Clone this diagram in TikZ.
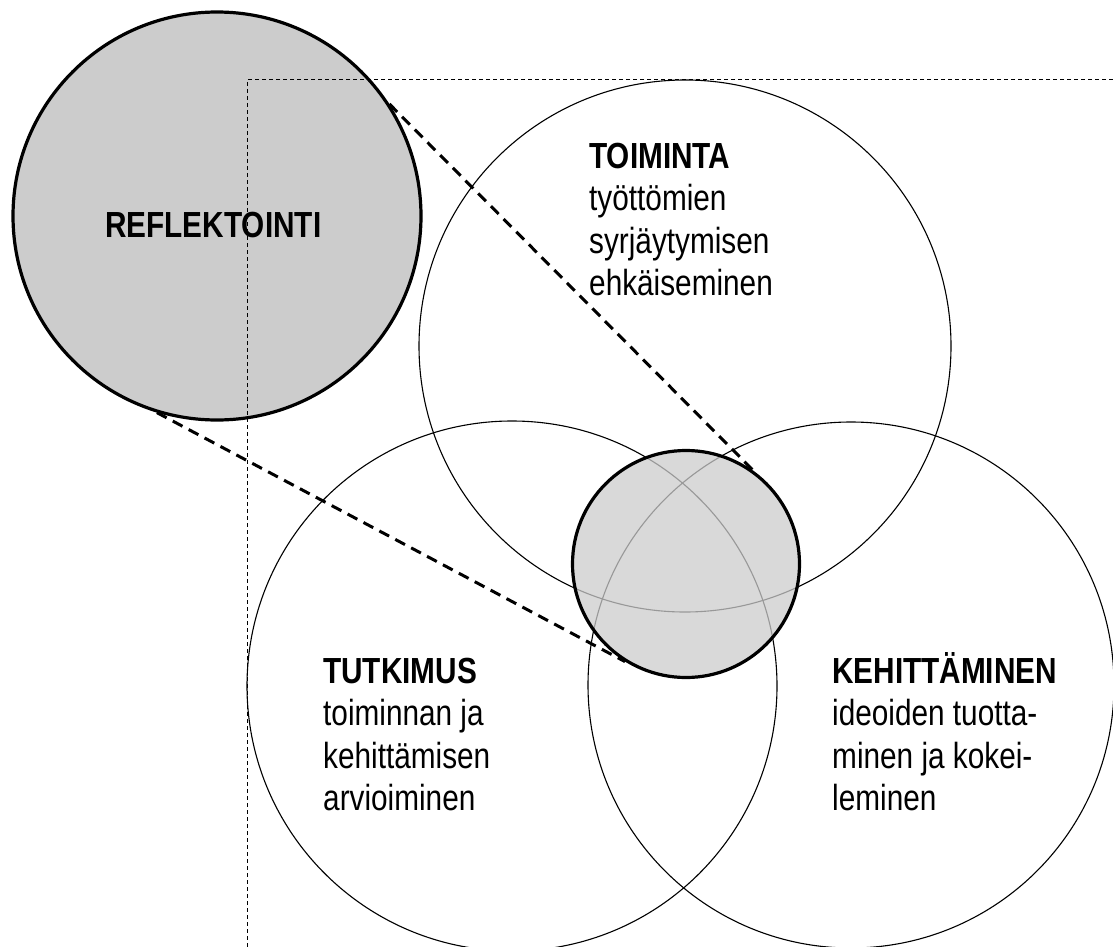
\documentclass[tikz,border=0pt]{standalone}
\usepackage{fontspec}
\setmainfont{Liberation Sans}[FakeStretch=0.82]
\definecolor{discfill}{RGB}{204,204,204}
\begin{document}
\begin{tikzpicture}[x=1pt,y=-1pt,
  thincirc/.style={circle, draw, line width=1.1pt, inner sep=0pt},
  thickcirc/.style={circle, draw, line width=3.2pt, inner sep=0pt},
  guide/.style={line width=1pt, dash pattern=on 4pt off 3pt},
  zoomline/.style={line width=3pt, dash pattern=on 11pt off 7pt},
  lbl/.style={anchor=base west, inner sep=0pt, align=left, font=\fontsize{36.3}{42.5}\selectfont}]
\useasboundingbox (0,0) rectangle (1113,947);
\clip (0,0) rectangle (1113,947);
% big reflection circle
\node[thickcirc, fill=discfill, minimum size=408pt] (refl) at (217,216) {};
% guide lines
\coordinate (gcorner) at (247,80);
\coordinate (gright) at (1113,80);
\coordinate (gbottom) at (247,947);
\draw[guide] (gright) -- (gcorner) -- (gbottom);
% three main circles
\node[thincirc, minimum size=532pt] (toim) at (685,346) {};
\node[thincirc, minimum size=530pt] (tutk) at (512,686) {};
\node[thincirc, minimum size=526pt] (kehi) at (851,685) {};
% core circle
\fill[discfill, fill opacity=0.75] (686,564) circle (113.5);
\node[thickcirc, minimum size=227pt] (core) at (686,564) {};
% zoom lines
\draw[zoomline] (refl.33) -- (core.54);
\draw[zoomline] (refl.253.4) -- (core.238);
% texts (anchor at baseline of the last line)
\node[lbl] (refltext) at (105,237) {\bfseries REFLEKTOINTI};
\node[lbl] (toimtext) at (589,295.5) {\bfseries TOIMINTA\\ty\"ott\"omien\\syrj\"aytymisen\\ehk\"aiseminen};
\node[lbl] (tutktext) at (323,810.5) {\bfseries TUTKIMUS\\toiminnan ja\\kehitt\"amisen\\arvioiminen};
\node[lbl] (kehitext) at (832,810.5) {\bfseries KEHITT\"AMINEN\\ideoiden tuotta-\\minen ja kokei-\\leminen};
\end{tikzpicture}
\end{document}
